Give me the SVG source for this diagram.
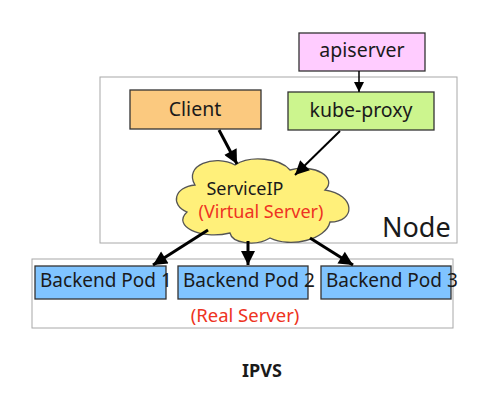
<svg xmlns="http://www.w3.org/2000/svg" width="494" height="400" viewBox="0 0 494 400">
<style>
text{font-family:"Noto Sans","Open Sans","DejaVu Sans",sans-serif;fill:#1a1a1a}
.box{stroke:#333;stroke-width:1.3}
.frame{fill:#fff;stroke:#a8a8a8;stroke-width:1}
.red{fill:#ee3322}
.c{stroke:#000;fill:none}
</style>
<defs>
<marker id="ah" viewBox="0 0 10 10" refX="10" refY="5" markerWidth="16" markerHeight="14" markerUnits="userSpaceOnUse" orient="auto"><path d="M0,0 L10,5 L0,10 z" fill="#000"/></marker>
<marker id="as" viewBox="0 0 10 10" refX="10" refY="5" markerWidth="11" markerHeight="10" markerUnits="userSpaceOnUse" orient="auto"><path d="M0,0 L10,5 L0,10 z" fill="#000"/></marker>
</defs>
<rect width="494" height="400" fill="#fff"/>
<g id="node-frame"><rect class="frame" x="100" y="77" width="357" height="166"/><text x="382" y="237" font-size="27">Node</text></g>
<g id="real-server-frame"><rect class="frame" x="32" y="259" width="421" height="69"/><text class="red" x="245" y="322" font-size="18.5" text-anchor="middle">(Real Server)</text></g>
<g id="apiserver"><rect class="box" x="299" y="33" width="126" height="38" fill="#ffccff"/><text x="362" y="57" font-size="19.5" text-anchor="middle">apiserver</text></g>
<g id="client"><rect class="box" x="130" y="90" width="131" height="39" fill="#fbc97f"/><text x="195" y="116" font-size="19.5" text-anchor="middle">Client</text></g>
<g id="kube-proxy"><rect class="box" x="288" y="92" width="146" height="38" fill="#ccf58e"/><text x="361" y="117" font-size="19.5" text-anchor="middle">kube-proxy</text></g>
<g id="pod1"><rect class="box" x="35" y="266" width="131" height="33" fill="#80c4ff"/><text x="40" y="287" font-size="19">Backend Pod 1</text></g>
<g id="pod2"><rect class="box" x="178" y="266" width="130" height="33" fill="#80c4ff"/><text x="183" y="287" font-size="19">Backend Pod 2</text></g>
<g id="pod3"><rect class="box" x="321" y="266" width="130" height="33" fill="#80c4ff"/><text x="326" y="287" font-size="19">Backend Pod 3</text></g>
<g id="serviceip">
<path d="M195,185 C183,165 215,154 235,165 C250,155 280,158 290,170 C315,163 338,178 325,190 C356,195 356,222 330,222 C326,240 290,248 270,238 C255,247 232,243 230,233 C200,240 172,226 187,212 C170,205 174,187 195,185 Z" fill="#fff07a" stroke="#555" stroke-width="1.3"/>
<text x="245" y="195" font-size="18" text-anchor="middle">ServiceIP</text>
<text class="red" x="261" y="218" font-size="18" text-anchor="middle">(Virtual Server)</text>
</g>
<g id="connectors">
<line class="c" x1="359" y1="71" x2="359" y2="92" stroke-width="1.5" marker-end="url(#as)"/>
<line class="c" x1="219" y1="130" x2="237" y2="164" stroke-width="3" marker-end="url(#ah)"/>
<line class="c" x1="340" y1="131" x2="295" y2="175" stroke-width="2" marker-end="url(#ah)"/>
<line class="c" x1="208" y1="230" x2="153" y2="265" stroke-width="3" marker-end="url(#ah)"/>
<line class="c" x1="248" y1="241" x2="248" y2="265" stroke-width="3" marker-end="url(#ah)"/>
<line class="c" x1="310" y1="238" x2="353" y2="265" stroke-width="3" marker-end="url(#ah)"/>
</g>
<text x="262" y="377" font-size="18" font-weight="bold" text-anchor="middle">IPVS</text>
</svg>
